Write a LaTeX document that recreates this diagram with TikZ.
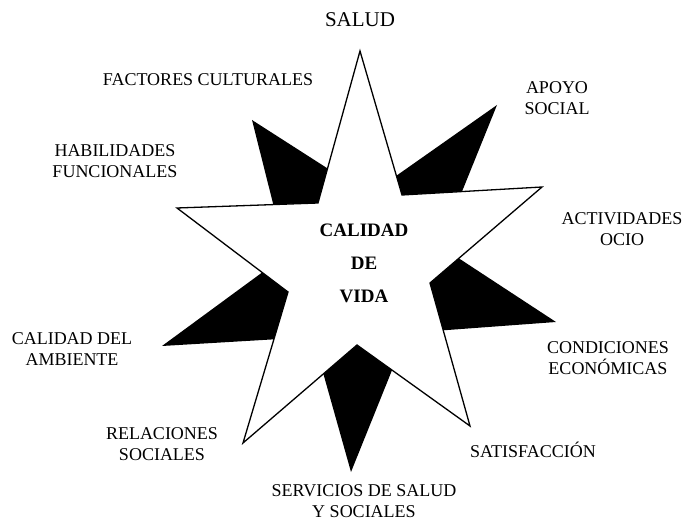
\documentclass[tikz,border=0pt]{standalone}
\usepackage{fontspec}
\setmainfont{Liberation Serif}
\begin{document}
\begin{tikzpicture}[x=1pt,y=-1pt,
  lbl/.style={font=\fontsize{18}{21}\selectfont, align=center, inner sep=0pt},
  starline/.style={line width=1.3pt, line join=miter, fill=white, draw=black}]
\useasboundingbox[fill=white] (0,0) rectangle (686,521);
% black star (behind)
\coordinate (bA) at (252,120);
\coordinate (bAB) at (369,195);
\coordinate (bB) at (497,105);
\coordinate (bBC) at (440,246);
\coordinate (bC) at (556,322);
\coordinate (bCD) at (407,333);
\coordinate (bD) at (351,472);
\coordinate (bDE) at (313,337);
\coordinate (bE) at (162,346);
\coordinate (bEA) at (286,255);
\fill[black] (bA) -- (bAB) -- (bB) -- (bBC) -- (bC) -- (bCD) -- (bD) -- (bDE) -- (bE) -- (bEA) -- cycle;
% white star (front)
\coordinate (t1) at (360,51);
\coordinate (i12) at (402,195);
\coordinate (t2) at (542,187);
\coordinate (i23) at (430,283);
\coordinate (t3) at (470,426);
\coordinate (i34) at (357,345);
\coordinate (t4) at (243,443);
\coordinate (i45) at (288,292);
\coordinate (t5) at (177,208);
\coordinate (i51) at (318,203);
\draw[starline] (t1) -- (i12) -- (t2) -- (i23) -- (t3) -- (i34) -- (t4) -- (i45) -- (t5) -- (i51) -- cycle;
% labels
\node[lbl, font=\fontsize{21}{24}\selectfont] (salud) at (360,20) {SALUD};
\node[lbl] (fc) at (208,80) {FACTORES CULTURALES};
\node[lbl] (hab) at (115,161) {HABILIDADES\\FUNCIONALES};
\node[lbl] (apoyo) at (557,98) {APOYO\\SOCIAL};
\node[lbl] (act) at (622,229) {ACTIVIDADES\\OCIO};
\node[lbl] (cond) at (608,358) {CONDICIONES\\ECONÓMICAS};
\node[lbl] (amb) at (72,349) {CALIDAD DEL\\AMBIENTE};
\node[lbl] (rel) at (162,444) {RELACIONES\\SOCIALES};
\node[lbl] (sat) at (533,450) {SATISFACCIÓN};
\node[lbl] (serv) at (364,501) {SERVICIOS DE SALUD\\Y SOCIALES};
\node[lbl, font=\bfseries\fontsize{19}{33}\selectfont] (cv) at (364,263) {CALIDAD\\DE\\VIDA};
\end{tikzpicture}
\end{document}
